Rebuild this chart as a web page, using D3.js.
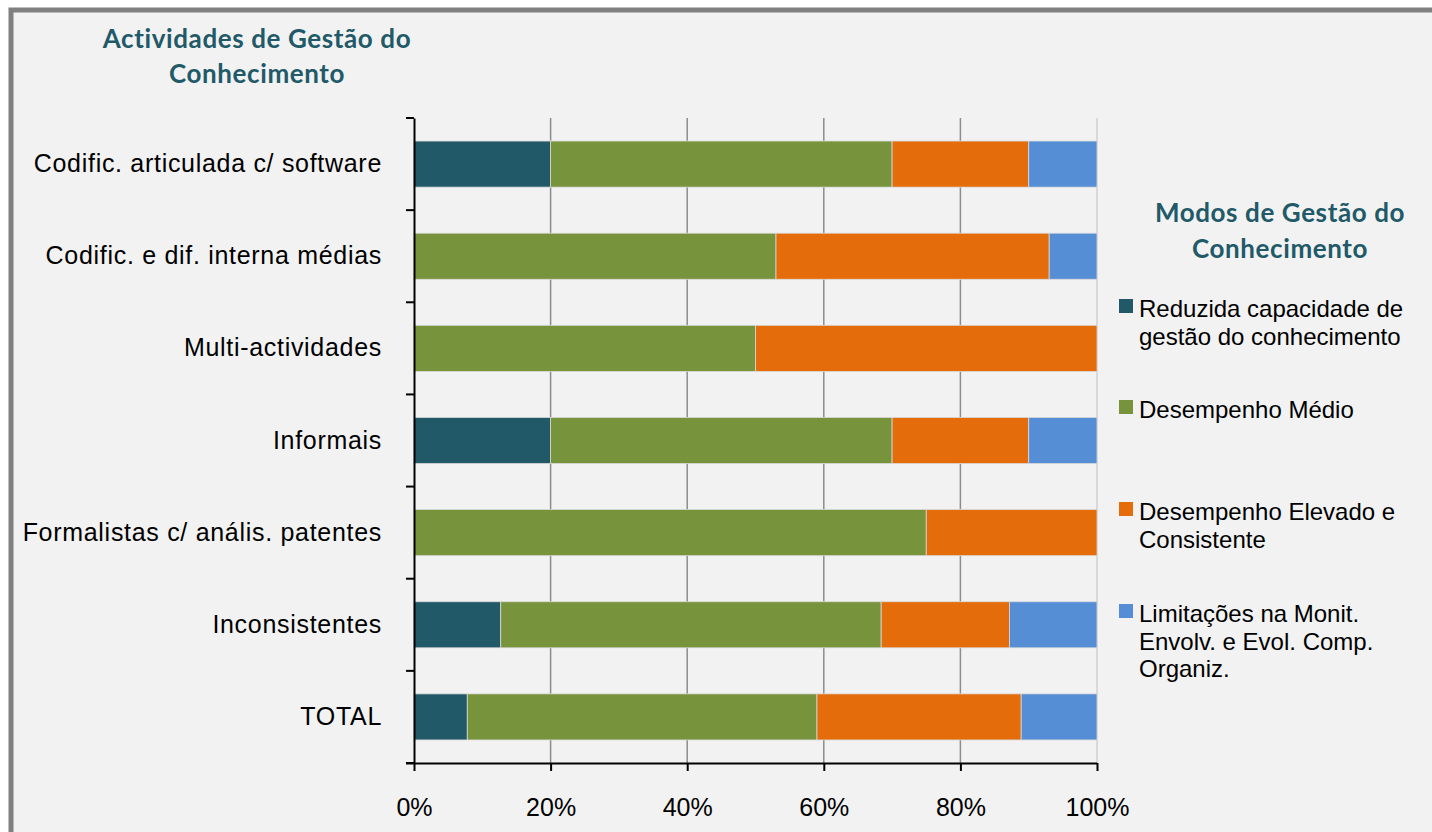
<!DOCTYPE html>
<html>
<head>
<meta charset="utf-8">
<script src="https://cdn.jsdelivr.net/npm/d3@7"></script>
<style>
  html, body { margin: 0; padding: 0; background: #ffffff; }
  svg { display: block; }
</style>
</head>
<body>
<svg id="chart" width="1432" height="832"></svg>
<script>
// Activity groups (top to bottom)
const categories = [
  "Codific. articulada c/ software",
  "Codific. e dif. interna médias",
  "Multi-actividades",
  "Informais",
  "Formalistas c/ anális. patentes",
  "Inconsistentes",
  "TOTAL"
];

// Management modes (stack order, left to right)
const seriesNames = [
  "Reduzida capacidade de gestão do conhecimento",
  "Desempenho Médio",
  "Desempenho Elevado e Consistente",
  "Limitações na Monit. Envolv. e Evol. Comp. Organiz."
];
const seriesLegendLines = [
  ["Reduzida capacidade de", "gestão do conhecimento"],
  ["Desempenho Médio"],
  ["Desempenho Elevado e", "Consistente"],
  ["Limitações na Monit.", "Envolv. e Evol. Comp.", "Organiz."]
];
const seriesColors = ["#215968", "#77933c", "#e46c0a", "#558ed5"];

// Share (%) of each mode within every group
const reduzida   = [20, 0,  0, 20, 0, 12.7, 7.8];
const medio      = [50, 53, 50, 50, 75, 55.7, 51.2];
const elevado    = [20, 40, 50, 20, 25, 18.8, 29.9];
const limitacoes = [10, 7,  0, 10, 0, 12.8, 11.1];

const xTicks = [0, 20, 40, 60, 80, 100];
const xTickLabels = ["0%", "20%", "40%", "60%", "80%", "100%"];

const chartTitle = ["Actividades de Gestão do", "Conhecimento"];
const legendTitle = ["Modos de Gestão do", "Conhecimento"];

const rows = categories.map((c, i) => ({
  cat: c,
  [seriesNames[0]]: reduzida[i],
  [seriesNames[1]]: medio[i],
  [seriesNames[2]]: elevado[i],
  [seriesNames[3]]: limitacoes[i]
}));

const svg = d3.select("#chart");
const bodyFont = "'Liberation Sans', Arial, sans-serif";
const titleFont = "Lato, 'Open Sans', sans-serif";

// Panel background and frame
svg.append("rect")
  .attr("x", 11).attr("y", 10)
  .attr("width", 1440).attr("height", 840)
  .attr("fill", "#f2f2f2")
  .attr("stroke", "#808080").attr("stroke-width", 5);

const plot = { left: 414, right: 1097, top: 118, bottom: 763 };

const x = d3.scaleLinear().domain([0, 100]).range([plot.left, plot.right]);
const y = d3.scaleBand().domain(categories).range([plot.top, plot.bottom]).paddingInner(0.5).paddingOuter(0.25);
const color = d3.scaleOrdinal().domain(seriesNames).range(seriesColors);

// Vertical gridlines
svg.append("g")
  .selectAll("line")
  .data(xTicks.filter(t => t > 0))
  .join("line")
  .attr("x1", d => x(d)).attr("x2", d => x(d))
  .attr("y1", plot.top).attr("y2", plot.bottom)
  .attr("stroke", d => d === 100 ? "#d0d0d0" : "#8c8c8c")
  .attr("stroke-width", 1.5);

// Stacked bars
const stacked = d3.stack().keys(seriesNames)(rows);
svg.append("g")
  .selectAll("g")
  .data(stacked)
  .join("g")
  .attr("fill", d => color(d.key))
  .selectAll("rect")
  .data(d => d.filter(s => s[1] - s[0] > 0))
  .join("rect")
  .attr("x", d => x(d[0]))
  .attr("y", d => y(d.data.cat))
  .attr("width", d => x(d[1]) - x(d[0]))
  .attr("height", y.bandwidth())
  .attr("stroke", "#d9d9d9")
  .attr("stroke-width", 0.8);

// Category axis
const yAxis = svg.append("g")
  .attr("transform", `translate(${plot.left},0)`)
  .call(d3.axisLeft(y).tickSize(0).tickPadding(32));
yAxis.select(".domain").attr("stroke", "#000").attr("stroke-width", 2);
yAxis.selectAll("text")
  .attr("font-family", bodyFont)
  .attr("font-size", 25)
  .attr("letter-spacing", 0.7)
  .attr("fill", "#000");

// Group boundary ticks
const step = (plot.bottom - plot.top) / categories.length;
svg.append("g")
  .selectAll("line")
  .data(d3.range(categories.length + 1))
  .join("line")
  .attr("x1", plot.left - 8).attr("x2", plot.left)
  .attr("y1", i => plot.top + i * step)
  .attr("y2", i => plot.top + i * step)
  .attr("stroke", "#000").attr("stroke-width", 2);

// Percentage axis
const xAxis = svg.append("g")
  .attr("transform", `translate(0,${plot.bottom})`)
  .call(d3.axisBottom(x).tickValues(xTicks).tickFormat((d, i) => xTickLabels[i]).tickSize(8).tickPadding(27));
xAxis.select(".domain").attr("stroke", "#000").attr("stroke-width", 2).attr("d", `M${plot.left - 8},0.5H${plot.right}`);
xAxis.selectAll(".tick line").attr("stroke", "#000").attr("stroke-width", 2);
xAxis.selectAll("text")
  .attr("font-family", bodyFont)
  .attr("font-size", 25)
  .attr("fill", "#000");

// Chart title
svg.append("text")
  .attr("y", 48)
  .attr("text-anchor", "middle")
  .attr("font-family", titleFont)
  .attr("font-weight", "bold")
  .attr("font-size", 26)
  .attr("letter-spacing", 0.6)
  .attr("fill", "#215968")
  .selectAll("tspan")
  .data(chartTitle)
  .join("tspan")
  .attr("x", 257)
  .attr("dy", (d, i) => i === 0 ? 0 : 35)
  .text(d => d);

// Legend title
svg.append("text")
  .attr("y", 222)
  .attr("text-anchor", "middle")
  .attr("font-family", titleFont)
  .attr("font-weight", "bold")
  .attr("font-size", 26)
  .attr("letter-spacing", 0.6)
  .attr("fill", "#215968")
  .selectAll("tspan")
  .data(legendTitle)
  .join("tspan")
  .attr("x", 1280)
  .attr("dy", (d, i) => i === 0 ? 0 : 36)
  .text(d => d);

// Legend entries (anchored at the first text baseline)
const legendBaseline = [317, 418, 520, 622];
const legend = svg.append("g")
  .selectAll("g")
  .data(seriesNames)
  .join("g")
  .attr("transform", (d, i) => `translate(1119,${legendBaseline[i]})`);
legend.append("rect")
  .attr("x", 0).attr("y", -18)
  .attr("width", 14).attr("height", 14)
  .attr("fill", d => color(d));
legend.append("text")
  .attr("font-family", bodyFont)
  .attr("font-size", 24)
  .attr("fill", "#000")
  .selectAll("tspan")
  .data((d, i) => seriesLegendLines[i])
  .join("tspan")
  .attr("x", 20)
  .attr("y", (d, j) => j * 27.7)
  .text(d => d);
</script>
</body>
</html>
